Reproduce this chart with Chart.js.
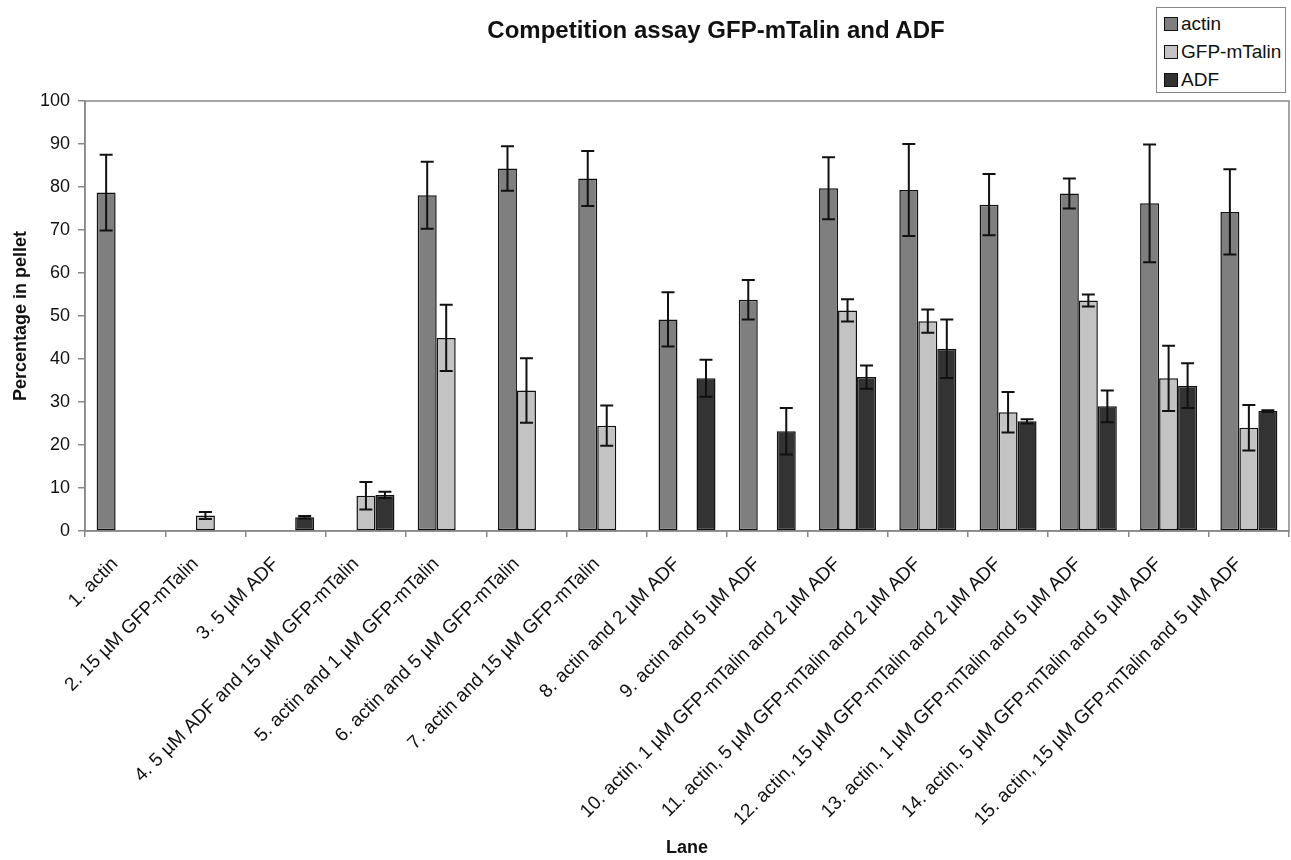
<!DOCTYPE html>
<html lang="en">
<head>
  <meta charset="UTF-8" />
  <title>Competition assay GFP-mTalin and ADF</title>
  <script src="https://cdn.jsdelivr.net/npm/chart.js"></script>
  <style>
    body { margin: 0; background: #fff; font-family: "Liberation Sans", Arial, sans-serif; }
    #wrap { position: relative; width: 1291px; height: 860px; }
    #title { position: absolute; left: 0; width: 1432px; top: 16px; text-align: center;
             font-weight: bold; font-size: 24px; color: #111; }
    #legend { position: absolute; left: 1156px; top: 7px; width: 128px; height: 84px;
              border: 1px solid #888; background: #fff; }
    .item { position: absolute; left: 7px; font-size: 19px; color: #111; line-height: 22px; }
    .sw { display: inline-block; width: 12px; height: 12px; border: 1px solid #111;
          margin-right: 3px; vertical-align: -1px; }
  </style>
</head>
<body>
  <div id="wrap">
    <canvas id="chart" width="1291" height="860"></canvas>
    <div id="title">Competition assay GFP-mTalin and ADF</div>
    <div id="legend"></div>
  </div>

  <script>
    const lanes = [
      '1. actin',
      '2. 15 µM GFP-mTalin',
      '3. 5 µM ADF',
      '4. 5 µM ADF and 15 µM GFP-mTalin',
      '5. actin and 1 µM GFP-mTalin',
      '6. actin and 5 µM GFP-mTalin',
      '7. actin and 15 µM GFP-mTalin',
      '8. actin and 2 µM ADF',
      '9. actin and 5 µM ADF',
      '10. actin, 1 µM GFP-mTalin and 2 µM ADF',
      '11. actin, 5 µM GFP-mTalin and 2 µM ADF',
      '12. actin, 15 µM GFP-mTalin and 2 µM ADF',
      '13. actin, 1 µM GFP-mTalin and 5 µM ADF',
      '14. actin, 5 µM GFP-mTalin and 5 µM ADF',
      '15. actin, 15 µM GFP-mTalin and 5 µM ADF'
    ];
    const seriesNames = ['actin', 'GFP-mTalin', 'ADF'];
    const actin    = [78.7, 0, 0, 0, 78.1, 84.3, 82.0, 49.2, 53.8, 79.7, 79.3, 75.9, 78.5, 76.2, 74.2];
    const actinErr = [8.8, 0, 0, 0, 7.8, 5.2, 6.4, 6.3, 4.6, 7.2, 10.7, 7.1, 3.5, 13.7, 9.9];
    const gfp      = [0, 3.6, 0, 8.2, 44.9, 32.7, 24.5, 0, 0, 51.3, 48.8, 27.6, 53.6, 35.5, 24.0];
    const gfpErr   = [0, 0.8, 0, 3.2, 7.7, 7.5, 4.7, 0, 0, 2.6, 2.7, 4.7, 1.4, 7.6, 5.3];
    const adf      = [0, 0, 3.2, 8.4, 0, 0, 0, 35.5, 23.2, 35.8, 42.4, 25.5, 29.0, 33.8, 27.9];
    const adfErr   = [0, 0, 0.3, 0.7, 0, 0, 0, 4.3, 5.4, 2.7, 6.8, 0.5, 3.7, 5.2, 0.2];

    const colors = ['#7f7f7f', '#c3c3c3', '#333333'];
    const FONT = '"Liberation Sans", Arial, sans-serif';

    // legend (html, top right)
    const legend = document.getElementById('legend');
    seriesNames.forEach((name, i) => {
      const el = document.createElement('div');
      el.className = 'item';
      el.style.top = (5 + i * 28) + 'px';
      el.innerHTML = '<span class="sw" style="background:' + colors[i] + '"></span>' + name;
      legend.appendChild(el);
    });

    // error bars drawn through the y scale
    const errorBars = {
      id: 'errorBars',
      afterDatasetsDraw(chart) {
        const ctx = chart.ctx;
        const y = chart.scales.y;
        ctx.save();
        ctx.strokeStyle = '#111';
        ctx.lineWidth = 2;
        chart.data.datasets.forEach((ds, di) => {
          const meta = chart.getDatasetMeta(di);
          meta.data.forEach((bar, i) => {
            const e = ds.errors[i];
            if (!e) return;
            const v = ds.data[i];
            const top = y.getPixelForValue(v + e);
            const bot = y.getPixelForValue(v - e);
            ctx.beginPath();
            ctx.moveTo(bar.x, top); ctx.lineTo(bar.x, bot);
            ctx.moveTo(bar.x - 6.5, top); ctx.lineTo(bar.x + 6.5, top);
            ctx.moveTo(bar.x - 6.5, bot); ctx.lineTo(bar.x + 6.5, bot);
            ctx.stroke();
          });
        });
        ctx.restore();
      }
    };

    // box around the plot area
    const plotBorder = {
      id: 'plotBorder',
      beforeDatasetsDraw(chart) {
        const a = chart.chartArea;
        const ctx = chart.ctx;
        ctx.save();
        ctx.strokeStyle = '#888';
        ctx.lineWidth = 1.5;
        ctx.strokeRect(a.left, a.top, a.right - a.left, a.bottom - a.top);
        ctx.restore();
      }
    };

    const mk = (label, data, errors, i) => ({
      label, data, errors,
      backgroundColor: colors[i],
      borderColor: '#111',
      borderWidth: 1.5,
      borderSkipped: false
    });

    new Chart(document.getElementById('chart'), {
      type: 'bar',
      data: {
        labels: lanes,
        datasets: [
          mk(seriesNames[0], actin, actinErr, 0),
          mk(seriesNames[1], gfp, gfpErr, 1),
          mk(seriesNames[2], adf, adfErr, 2)
        ]
      },
      options: {
        responsive: false,
        animation: false,
        layout: { padding: { top: 101, right: 2, left: 0, bottom: 0 } },
        datasets: { bar: { categoryPercentage: 0.71, barPercentage: 1.0 } },
        plugins: {
          legend: { display: false },
          tooltip: { enabled: false }
        },
        scales: {
          x: {
            afterFit(s) { s.height = 329; },
            grid: { offset: true, drawOnChartArea: false, tickLength: 6, color: '#888', lineWidth: 1.5 },
            border: { color: '#888', width: 1.5 },
            ticks: {
              autoSkip: false, maxRotation: 45, minRotation: 45,
              padding: 16, labelOffset: -10,
              color: '#111', font: { family: FONT, size: 19 }
            },
            title: {
              display: true, text: 'Lane', color: '#111',
              font: { family: FONT, size: 18, weight: 'bold' },
              padding: { top: 0, bottom: 1 }
            }
          },
          y: {
            min: 0, max: 100,
            afterFit(s) { s.width = 85; },
            grid: { drawOnChartArea: false, tickLength: 7, color: '#888', lineWidth: 1.5 },
            border: { color: '#888', width: 1.5 },
            ticks: {
              stepSize: 10, padding: 8,
              color: '#111', font: { family: FONT, size: 18 }
            },
            title: {
              display: true, text: 'Percentage in pellet', color: '#111',
              font: { family: FONT, size: 18, weight: 'bold' },
              padding: { top: 10, bottom: 0 }
            }
          }
        }
      },
      plugins: [plotBorder, errorBars]
    });
  </script>
</body>
</html>
